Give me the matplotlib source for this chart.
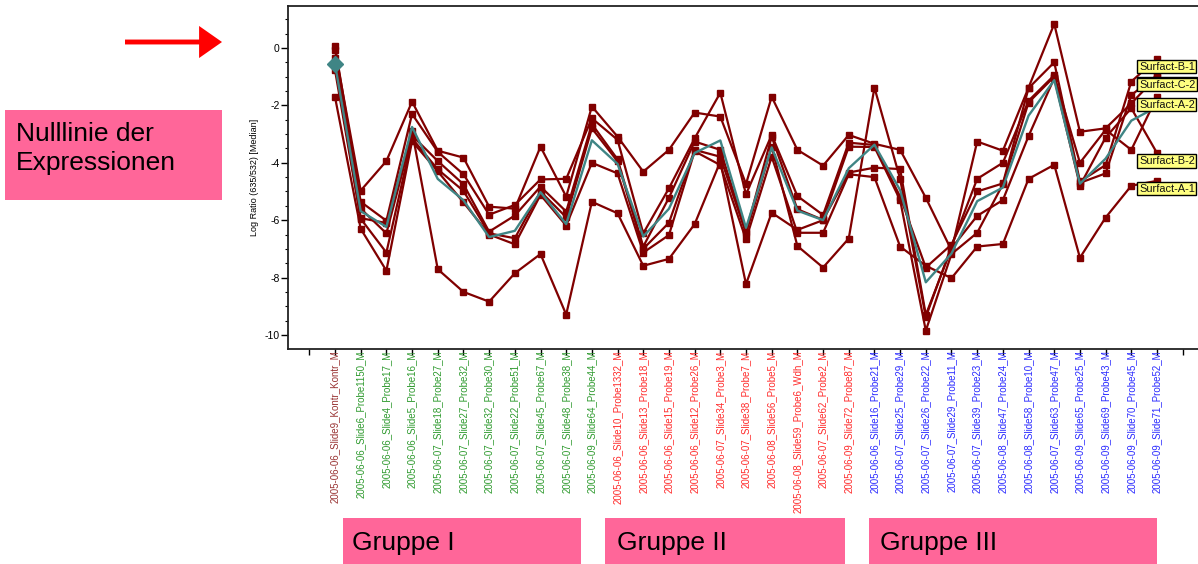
import numpy as np
import matplotlib
matplotlib.use("Agg")
import matplotlib.pyplot as plt
from matplotlib.patches import Rectangle, FancyArrowPatch
from matplotlib.ticker import MultipleLocator

plt.rcParams['font.family'] = ['Liberation Sans', 'DejaVu Sans']
plt.rcParams['axes.unicode_minus'] = False

# ---- sample names (x axis), grouped ----
control = ["2005-06-06_Slide9_Kontr_Kontr_M"]
group1 = [
    "2005-06-06_Slide6_Probe1150_M", "2005-06-06_Slide4_Probe17_M",
    "2005-06-06_Slide5_Probe16_M", "2005-06-07_Slide18_Probe27_M",
    "2005-06-07_Slide27_Probe32_M", "2005-06-07_Slide32_Probe30_M",
    "2005-06-07_Slide22_Probe51_M", "2005-06-07_Slide45_Probe67_M",
    "2005-06-07_Slide48_Probe38_M", "2005-06-09_Slide64_Probe44_M",
]
group2 = [
    "2005-06-06_Slide10_Probe1332_M", "2005-06-06_Slide13_Probe18_M",
    "2005-06-06_Slide15_Probe19_M", "2005-06-06_Slide12_Probe26_M",
    "2005-06-07_Slide34_Probe3_M", "2005-06-07_Slide38_Probe7_M",
    "2005-06-08_Slide56_Probe5_M", "2005-06-08_Slide59_Probe6_Wdh_M",
    "2005-06-07_Slide62_Probe2_M", "2005-06-09_Slide72_Probe87_M",
]
group3 = [
    "2005-06-06_Slide16_Probe21_M", "2005-06-07_Slide25_Probe29_M",
    "2005-06-07_Slide26_Probe22_M", "2005-06-07_Slide29_Probe11_M",
    "2005-06-07_Slide39_Probe23_M", "2005-06-08_Slide47_Probe24_M",
    "2005-06-08_Slide58_Probe10_M", "2005-06-07_Slide63_Probe47_M",
    "2005-06-09_Slide65_Probe25_M", "2005-06-09_Slide69_Probe43_M",
    "2005-06-09_Slide70_Probe45_M", "2005-06-09_Slide71_Probe52_M",
]
samples = control + group1 + group2 + group3

# ---- log ratio (635/532) medians per surfactant profile ----
surfact_B1 = [0.07, -5.36, -6.02, -2.3, -3.62, -4.4, -5.81, -5.47, -4.58, -4.56,
              -2.45, -3.2, -6.46, -4.89, -3.15, -1.56, -5.1, -3.03, -5.16, -5.82,
              -3.3, -3.38, -5.18, -7.65, -6.85, -5.0, -4.72, -1.4, -0.5, -4.65,
              -4.08, -1.17, -0.37]
surfact_C1 = [-0.35, -5.6, -6.46, -3.05, -3.94, -4.75, -6.4, -5.84, -4.83, -5.7,
              -2.65, -3.88, -6.92, -5.22, -3.26, -3.55, -6.4, -3.09, -5.62, -5.99,
              -3.44, -3.45, -5.3, -9.85, -7.18, -6.44, -4.75, -1.9, -1.0, -4.7,
              -4.37, -1.64, -0.95]
surfact_C2 = [-0.07, -4.97, -3.94, -1.87, -3.58, -3.82, -5.53, -5.6, -3.44, -5.18,
              -2.04, -3.09, -4.31, -3.55, -2.25, -2.39, -4.74, -1.7, -3.55, -4.1,
              -3.03, -3.34, -3.55, -5.22, -7.05, -3.26, -3.58, -1.38, 0.84, -2.92,
              -2.8, -1.93, -1.0]
surfact_A2 = [-0.77, -5.95, -7.13, -3.15, -4.23, -4.98, -6.46, -6.63, -5.0, -5.9,
              -2.8, -3.95, -7.0, -6.09, -3.55, -3.79, -6.46, -3.44, -6.9, -7.65,
              -6.64, -1.38, -4.56, -9.38, -6.9, -4.56, -4.0, -1.84, -0.95, -4.0,
              -2.85, -3.55, -1.7]
surfact_B2 = [-0.56, -5.93, -6.1, -2.9, -7.71, -8.5, -8.84, -7.85, -7.18, -9.29,
              -5.36, -5.76, -7.59, -7.35, -6.14, -3.96, -8.23, -5.74, -6.34, -6.0,
              -4.34, -4.17, -4.22, -9.3, -6.98, -5.85, -5.3, -3.07, -1.05, -4.8,
              -3.12, -2.1, -3.66]
surfact_A1 = [-1.71, -6.3, -7.76, -3.25, -4.3, -5.38, -6.5, -6.84, -5.12, -6.19,
              -4.0, -4.37, -7.13, -6.52, -3.6, -4.08, -6.67, -3.79, -6.44, -6.44,
              -4.4, -4.5, -6.92, -7.59, -8.02, -6.92, -6.83, -4.56, -4.07, -7.31,
              -5.91, -4.8, -4.63]

profile_names = ["Surfact-C-1", "Surfact-B-1", "Surfact-C-2",
                 "Surfact-A-2", "Surfact-B-2", "Surfact-A-1"]
profiles = [surfact_C1, surfact_B1, surfact_C2, surfact_A2, surfact_B2, surfact_A1]

W, H = 1198, 564
fig = plt.figure(figsize=(W / 100, H / 100), dpi=100)
fig.patch.set_facecolor("white")


def fx(px):
    return px / W


def fy(py):
    return 1 - py / H


ax = fig.add_axes([fx(288), fy(349), (1204 - 288) / W, (349 - 6) / H])
x = np.arange(len(samples))

line_red = "#800000"
teal = "#3f8585"

for vals in profiles:
    ax.plot(x, vals, color=line_red, lw=1.6, marker="s", ms=4.6,
            mec=line_red, mfc=line_red, zorder=3)

mean_profile = np.mean(np.array(profiles), axis=0)
ax.plot(x, mean_profile, color=teal, lw=1.7, zorder=4)
ax.plot(x[:1], mean_profile[:1], color=teal, marker="D", ms=8, ls="none", zorder=5)

# end-of-line labels
for name, vals in zip(profile_names, profiles):
    ax.annotate(name, xy=(x[-1], vals[-1]), xytext=(-18, -8),
                textcoords="offset pixels", ha="left", va="center",
                fontsize=7.9, color="#111111", zorder=6, annotation_clip=False,
                bbox=dict(boxstyle="square,pad=0.14", fc="#ffff80", ec="black", lw=1.0))

ax.set_xlim(-1.83, 33.83)
ax.set_ylim(-10.49, 1.463)

ax.set_yticks([0, -2, -4, -6, -8, -10])
ax.yaxis.set_minor_locator(MultipleLocator(0.5))
ax.tick_params(axis="y", which="major", length=5, width=1, labelsize=7.5, pad=1)
ax.tick_params(axis="y", which="minor", length=2.5, width=0.8)
ax.set_ylabel("Log Ratio (635/532) [Median]", fontsize=6.5, labelpad=4)

ticks = list(range(-1, len(samples) + 1))
ax.set_xticks(ticks)
ax.set_xticklabels([""] + samples + [""], rotation=90, fontsize=7,
                   va="top", ha="center")
ax.tick_params(axis="x", which="major", length=4, width=1, pad=-3)

label_colors = (["#993333"] + ["#2e9a2e"] * len(group1) +
                ["#ff2a2a"] * len(group2) + ["#2a2aff"] * len(group3))
for lbl, c in zip(ax.get_xticklabels()[1:-1], label_colors):
    lbl.set_color(c)

for side in ["top", "left", "bottom", "right"]:
    ax.spines[side].set_linewidth(1.3)
    ax.spines[side].set_color("#222222")

# annotation boxes around the chart
pink = "#ff6699"
fig.add_artist(Rectangle((fx(5), fy(200)), (222 - 5) / W, (200 - 110) / H,
                         transform=fig.transFigure, fc=pink, ec="none"))
fig.text(fx(16), fy(141), "Nulllinie der", fontsize=19, va="baseline", ha="left")
fig.text(fx(16), fy(170), "Expressionen", fontsize=19, va="baseline", ha="left")

groups = [("Gruppe I", 343, 581, 352), ("Gruppe II", 605, 845, 617),
          ("Gruppe III", 869, 1157, 880)]
for txt, x0, x1, tx in groups:
    fig.add_artist(Rectangle((fx(x0), fy(570)), (x1 - x0) / W, (570 - 518) / H,
                             transform=fig.transFigure, fc=pink, ec="none"))
    fig.text(fx(tx), fy(550), txt, fontsize=19, va="baseline", ha="left")

fig.add_artist(FancyArrowPatch((fx(125), fy(42)), (fx(222), fy(42)),
                               transform=fig.transFigure,
                               arrowstyle="simple,head_length=1.5,head_width=2.1,tail_width=0.32",
                               mutation_scale=11, color="#ff0000", lw=0,
                               shrinkA=0, shrinkB=0))

fig.savefig("out.png", dpi=100, facecolor="white")
